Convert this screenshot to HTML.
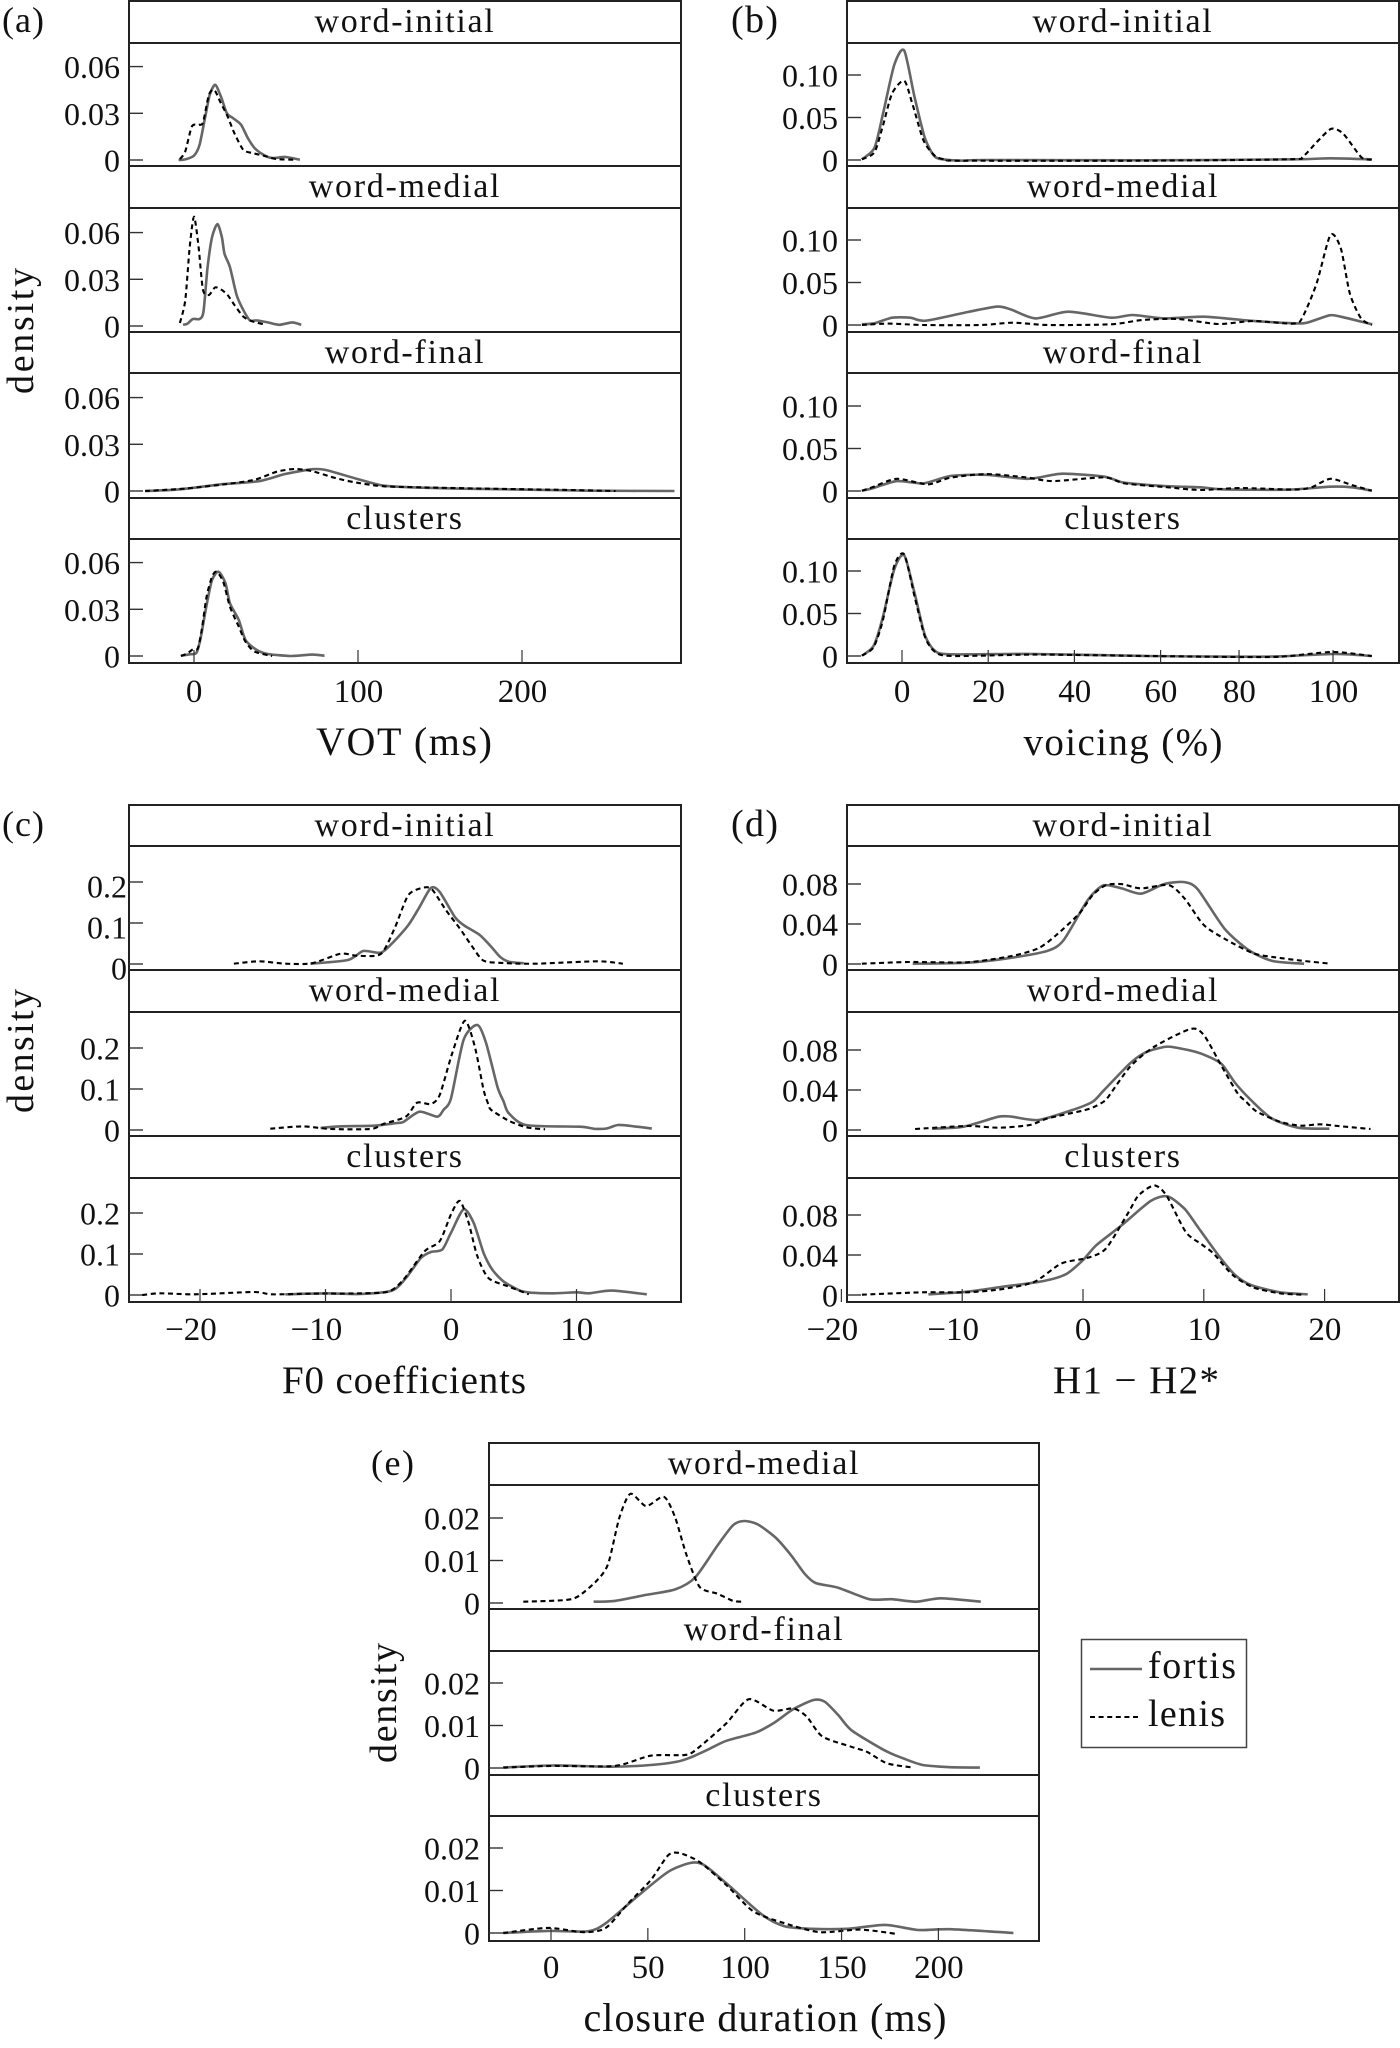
<!DOCTYPE html>
<html lang="en">
<head>
<meta charset="utf-8">
<title>Density plots by position</title>
<style>
html,body{margin:0;padding:0;background:#fff;}
svg{display:block;}
text{font-family:"Liberation Serif",serif;fill:#111;}
</style>
</head>
<body>
<svg id="chart" xmlns="http://www.w3.org/2000/svg" width="1400" height="2048" viewBox="0 0 1400 2048">
  <rect width="1400" height="2048" fill="#fff"/>
  <text x="2" y="32" font-size="36" textLength="42">(a)</text>
  <text x="731" y="32" font-size="38" textLength="47">(b)</text>
  <text x="2" y="836" font-size="36" textLength="42">(c)</text>
  <text x="731" y="836" font-size="38" textLength="47">(d)</text>
  <text x="371" y="1475" font-size="36" textLength="43">(e)</text>

  <text transform="translate(33,331) rotate(-90)" text-anchor="middle" font-size="38" textLength="126">density</text>
  <text transform="translate(33,1051) rotate(-90)" text-anchor="middle" font-size="38" textLength="124">density</text>
  <text transform="translate(396,1703) rotate(-90)" text-anchor="middle" font-size="38" textLength="120">density</text>

  <text x="404" y="755" text-anchor="middle" font-size="40" textLength="176">VOT (ms)</text>
  <text x="1123" y="755" text-anchor="middle" font-size="39" textLength="199">voicing (%)</text>
  <text x="404" y="1393" text-anchor="middle" font-size="39" textLength="244">F0 coefficients</text>
  <text x="1136" y="1393" text-anchor="middle" font-size="39" textLength="166">H1 − H2*</text>
  <text x="765" y="2031" text-anchor="middle" font-size="40" textLength="363">closure duration (ms)</text>

  <g>
    <rect x="1081.5" y="1639.5" width="165" height="108" fill="#fff" stroke="#444" stroke-width="1.5"/>
    <line x1="1090" x2="1142" y1="1669" y2="1669" stroke="#666" stroke-width="2.4"/>
    <text x="1148" y="1678" font-size="38" textLength="88">fortis</text>
    <line x1="1090" x2="1138" y1="1717" y2="1717" stroke="#000" stroke-width="2" stroke-dasharray="5 3.6"/>
    <text x="1148" y="1726" font-size="38" textLength="77">lenis</text>
  </g>
  <g id="plots"></g>
</svg>
<script>
// ---------- tick values and labels ----------
const votXTicks = [0, 100, 200];
const votXLabels = ['0', '100', '200'];
const votYTicks = [0, 0.03, 0.06];
const votYLabels = ['0', '0.03', '0.06'];
const voicingXTicks = [0, 20, 40, 60, 78.2, 100];
const voicingXLabels = ['0', '20', '40', '60', '80', '100'];
const voicingYTicks = [0, 0.05, 0.10];
const voicingYLabels = ['0', '0.05', '0.10'];
const f0XTicks = [-20, -10, 0, 10];
const f0XLabels = ['−20', '−10', '0', '10'];
const f0YTicks = [0, 0.1, 0.2];
const f0YLabels = ['0', '0.1', '0.2'];
const h1XTicks = [-20, -10, 0, 10, 20];
const h1XLabels = ['−20', '−10', '0', '10', '20'];
const h1YTicks = [0, 0.04, 0.08];
const h1YLabels = ['0', '0.04', '0.08'];
const closureXTicks = [0, 50, 100, 150, 200];
const closureXLabels = ['0', '50', '100', '150', '200'];
const closureYTicks = [0, 0.01, 0.02];
const closureYLabels = ['0', '0.01', '0.02'];

// ---------- VOT ----------
const votInitialFortisX = [-9.4,-5.3,0,3.4,6.9,9.6,12.9,16.4,20,23.8,28.7,32.8,36.9,42.3,47.7,55.9,64.6];
const votInitialFortisY = [0,.0004,.0028,.0098,.028,.0418,.0483,.0408,.0301,.0269,.0226,.0141,.0077,.0034,.0013,.0019,.0002];
const votInitialLenisX = [-8.6,-5.3,-1.3,2.8,5.5,9.1,12.4,16.4,20.5,24.6,30,35.5,42.3,50.5,61.4];
const votInitialLenisY = [.0006,.0056,.0216,.0226,.0241,.0418,.045,.0365,.028,.0173,.0066,.0045,.0028,.0006,.0002];
const votMedialFortisX = [-6.7,-4,-.7,3.4,5.8,8.3,11,14.3,17,18.6,21.9,26,30,34.1,38.2,45,51.9,60,65.4];
const votMedialFortisY = [.0008,.0015,.0045,.0045,.0093,.0379,.057,.0655,.057,.0464,.0379,.0199,.0104,.0036,.0036,.0023,.0008,.0023,.0008];
const votMedialLenisX = [-8.6,-5.3,-2.6,0,2.8,5.5,9.1,12.9,17,20.5,24.6,30,35.5,43.7];
const votMedialLenisY = [.0019,.0167,.0507,.0702,.0507,.0231,.0199,.0248,.0231,.0199,.0136,.0061,.003,.0008];
const votFinalFortisX = [-29.8,-9.4,17.8,39.6,55.9,72.2,80.4,99.4,115.8,140.3,164.8,208.4,241,293];
const votFinalFortisY = [0,.001,.0044,.0063,.011,.014,.0135,.0078,.0034,.0021,.0015,.0008,.0002,0];
const votFinalLenisX = [-29.8,-4,17.8,36.9,50.5,61.4,72.2,85.9,99.4,115.8,140.3,181,222,257];
const votFinalLenisY = [0,.0017,.0042,.0072,.0124,.0141,.0127,.0084,.0053,.003,.0023,.0015,.0008,0];
const votClusterFortisX = [-8,-2.6,1.5,4.2,7.5,11,15,19.2,21.9,27.3,31.4,38.2,45,58.9,72.2,79.6];
const votClusterFortisY = [.0002,.0011,.0021,.0124,.0317,.0488,.0541,.0467,.0339,.0231,.0103,.0039,.0013,0,.0009,.0002];
const votClusterLenisX = [-8,-4,-.7,2.3,4.7,7.7,11,13.7,17.8,21.9,27.3,31.4,36.9,47.7];
const votClusterLenisY = [0,.0017,.0043,.0049,.0167,.0381,.0509,.0541,.0477,.0317,.0188,.0092,.0028,0];

// ---------- voicing ----------
const voiceInitialFortisX = [-9.3,-6.4,-4.4,-1.8,.5,2.9,5.3,7.6,10.2,14.3,19.5,56.8,90.9,99.2,109];
const voiceInitialFortisY = [.0008,.0142,.0545,.1118,.1288,.0743,.0261,.004,.0004,-.0008,0,-.0004,.0008,.002,.0008];
const voiceInitialLenisX = [-9.3,-6.4,-4.4,-2.3,.5,2.4,5,7.6,10.2,14.3,56.8,89.9,93,96.2,99.6,102.4,106.6,109];
const voiceInitialLenisY = [.0008,.0091,.0407,.0782,.0932,.0664,.0229,.0051,.0004,-.0008,-.0008,.0008,.004,.0209,.0367,.0308,.0032,.0004];
const voiceMedialFortisX = [-9.3,-6.4,-2.3,1.9,5.5,15.3,22.1,25.2,30.9,38.6,48.5,53.5,60.9,70.2,80.6,91,94,99.2,101.8,109.1];
const voiceMedialFortisY = [.0008,.002,.0086,.0086,.0051,.0153,.0216,.0184,.0078,.0157,.0086,.0118,.0078,.0098,.0051,.002,.0027,.0114,.0098,.0008];
const voiceMedialLenisX = [-9.3,-3.3,5,18.4,25.7,34,48.5,55.7,64,73.4,81.6,91,93,96.2,99.4,101.8,103.9,106.5,109];
const voiceMedialLenisY = [0,.0016,0,0,.0027,0,.0008,.0059,.0071,.0012,.0047,.0016,.0098,.049,.1058,.0902,.0372,.0078,0];
const voiceFinalFortisX = [-9.3,-6.9,-1.2,5,11.2,19.5,29.3,37.1,46.9,51.6,60.9,69.2,74.4,90,99.2,104.4,109];
const voiceFinalFortisY = [.0004,.0031,.0117,.009,.0176,.0191,.0144,.0203,.0168,.0098,.0059,.0043,.002,.0016,.0051,.0043,.0004];
const voiceFinalLenisX = [-9.3,-6.9,-1.2,6,11.2,19.5,28.8,35,46.9,51.6,60.9,69.2,78.5,91,95,99.4,104.4,109];
const voiceFinalLenisY = [.0004,.0043,.0144,.0078,.0156,.0199,.016,.0117,.016,.009,.0047,.0012,.0035,.0016,.0043,.0144,.007,.0004];
const voiceClusterFortisX = [-9.3,-6.6,-4.4,-1.8,.5,2.9,5.3,7.6,11.2,30.9,56.8,77.5,87.9,100.3,109];
const voiceClusterFortisY = [.0004,.0119,.0466,.1019,.1185,.0743,.0249,.0063,.002,.0024,0,-.0008,-.0004,.0024,0];
const voiceClusterLenisX = [-9.3,-6.6,-4.4,-1.8,.5,2.9,5.3,7.6,11.6,30.9,56.8,77.5,87.9,99.8,109];
const voiceClusterLenisY = [.0004,.0103,.0427,.1059,.1197,.0703,.0229,.0051,0,.0016,0,-.0012,-.0008,.0047,0];

// ---------- F0 ----------
const f0InitialFortisX = [-11.2,-8.2,-7,-5.6,-4.7,-3.4,-2.5,-1.6,-.9,.3,1,2.3,3.2,3.9,4.6,5.8];
const f0InitialFortisY = [.0008,.0097,.0316,.0275,.0502,.0948,.1393,.1855,.1758,.115,.0948,.0705,.0421,.0178,.0057,.0016];
const f0InitialLenisX = [-17.3,-15.3,-13.2,-11.1,-8.8,-7.5,-5.6,-4.5,-3.4,-2.2,-1.5,-.4,.7,1.7,2.6,4.2,6.7,11.7,13.7];
const f0InitialLenisY = [.0008,.0065,.0008,.0016,.0251,.0203,.0243,.0867,.1677,.1863,.1814,.1312,.0867,.0421,.0081,.0024,.0008,.0065,.0008];
const f0MedialFortisX = [-10.4,-8.9,-6.1,-4.3,-3.8,-2.5,-1.1,-.6,0,1,2.1,2.8,3.7,4.2,4.6,6,10.3,11.4,12.4,13.3,14.6,16];
const f0MedialFortisY = [.0049,.0089,.0106,.0171,.0195,.0447,.0325,.049,.0772,.22,.256,.212,.1057,.069,.041,.012,.008,.003,.0036,.0122,.0089,.0035];
const f0MedialLenisX = [-14.4,-11.8,-9.6,-6.4,-5.4,-3.6,-2.7,-1.6,-.9,.1,1.1,1.9,2.6,3,3.2,4.6,6,7.5];
const f0MedialLenisY = [.0032,.0089,.0024,.0024,.0146,.0325,.0667,.0634,.0854,.1878,.2666,.2033,.0976,.061,.0488,.0228,.0065,.0016];
const f0ClusterFortisX = [-13.2,-10,-7.2,-4.7,-3.6,-2.4,-1.6,-.7,0,1,1.8,2.6,3.3,4.2,5.5,6.4,8.2,10,11,12.8,15.6];
const f0ClusterFortisY = [.0016,.0041,.0025,.0107,.041,.0902,.105,.1107,.1517,.2091,.1763,.1025,.0615,.0328,.0107,.0057,.0041,.0066,.0041,.0107,.0016];
const f0ClusterLenisX = [-24.6,-23.2,-20.4,-15.7,-14.3,-11.1,-7.2,-5,-3.8,-2.1,-.9,0,.7,1.4,2.1,3,4.6,6.2];
const f0ClusterLenisY = [0,.0041,.0016,.0074,.0016,.0033,.0041,.0082,.0369,.1066,.1312,.1968,.2296,.1763,.0943,.041,.0205,.0016];

// ---------- H1-H2* ----------
const h1InitialFortisX = [-14.1,-9.6,-5.9,-2.9,-1.6,.4,1.7,3.2,4.8,6.7,8.4,9.5,11.7,13.7,15.7,18.3];
const h1InitialFortisY = [.0003,.0013,.0063,.0133,.024,.064,.0786,.0756,.0703,.0799,.0819,.0746,.0356,.014,.003,.0003];
const h1InitialLenisX = [-18.3,-14.4,-9.6,-5.9,-3.7,-2.2,-.3,.8,1.9,3.2,4.8,7.1,8.4,10,11.9,14.1,15.9,18.1,20.5];
const h1InitialLenisY = [.0003,.002,.0017,.008,.0157,.029,.0506,.0689,.0789,.0799,.0756,.0789,.0656,.039,.024,.0107,.0067,.0033,.0003];
const h1MedialFortisX = [-12.5,-9.9,-7,-5.9,-3.7,-.7,.8,1.7,3.9,5.2,6.7,7.4,9.3,10.4,11.5,12.6,13.9,15.6,17.8,20.4];
const h1MedialFortisY = [.0013,.0033,.0133,.0133,.01,.0207,.0283,.0393,.0667,.0777,.083,.083,.0783,.0733,.0657,.047,.03,.0117,.0023,.0013];
const h1MedialLenisX = [-13.9,-9.6,-7,-4.4,-2.9,.4,1.7,2.1,3.9,5.9,8.9,10,11.5,12.8,13.5,14.4,16.3,18,19.6,21.1,23.8];
const h1MedialLenisY = [.001,.004,.0023,.005,.0117,.0207,.0283,.0333,.0633,.0833,.101,.095,.0633,.0367,.0283,.0183,.0083,.0043,.0057,.004,.001];
const h1ClusterFortisX = [-12.8,-9.6,-6.6,-3.3,-1.4,0,1.1,3.2,5.6,7,8.4,9.6,11.3,12.6,13.9,16.3,18.6];
const h1ClusterFortisY = [.0007,.0033,.0083,.0139,.0209,.0349,.0498,.0697,.094,.0986,.0863,.0664,.0382,.0199,.01,.0027,.0007];
const h1ClusterLenisX = [-18.3,-13.3,-9.6,-6.6,-4,-1.8,.4,1.9,3.7,4.6,5.9,6.9,8.5,9.8,10.8,12.4,14.1,16.3,18.1];
const h1ClusterLenisY = [.0003,.0027,.0027,.006,.0133,.0315,.0372,.0465,.0813,.0996,.1096,.0996,.0631,.0508,.0415,.0199,.0076,.0017,.0003];

// ---------- closure duration ----------
const closureMedialFortisX = [22,33,49.1,64.1,74.4,85.9,94,99.8,106.7,115.9,124,130.9,136.6,148.2,164.3,175.8,188.5,201.2,221.9];
const closureMedialFortisY = [.0003,.0005,.0019,.0032,.006,.0135,.0183,.0193,.0185,.0154,.0112,.0069,.0047,.0036,.0009,.0009,.0003,.0011,.0003];
const closureMedialLenisX = [-14.3,7.6,14.5,23.7,29.5,35.3,41,49.1,58.3,64.1,69.8,76.7,85.9,94,99.1];
const closureMedialLenisY = [.0003,.0007,.0017,.0053,.0092,.0201,.0257,.0228,.025,.0201,.0115,.0038,.0022,.0005,.0003];
const closureFinalFortisX = [-24.7,.7,30.6,51.4,65.2,72.1,81.3,90.5,105.5,114.7,125,135.5,141.3,148.2,155.1,171.2,181.6,191.9,205.8,221.4];
const closureFinalFortisY = [.0001,.0006,.0003,.0007,.0015,.0025,.0044,.0064,.0083,.0105,.0138,.016,.0156,.0125,.0089,.0044,.0023,.0007,.0002,.0001];
const closureFinalLenisX = [-24.7,.7,33,51.4,69.8,76.7,90.5,102.1,114.7,125.1,132,140.1,155.1,163.1,173.5,186.9];
const closureFinalLenisY = [.0001,.0005,.0005,.0029,.0031,.005,.0105,.0162,.0135,.014,.0121,.0074,.005,.0038,.0011,.0001];
const closureClusterFortisX = [-24.7,-1.6,19.1,28.3,44.5,60.5,72.1,79,90.5,109,120.5,134.4,152.8,172.4,189.7,205.8,238.7];
const closureClusterFortisY = [0,.0005,.0004,.0023,.0086,.0144,.0165,.016,.0117,.0043,.0016,.001,.001,.0019,.0007,.0009,0];
const closureClusterLenisX = [-24.7,-1.6,16.8,28.3,39.9,51.4,60.5,66.4,76.7,90.5,104.4,120.5,138.9,159.7,178.1];
const closureClusterLenisY = [0,.0012,.0002,.0012,.007,.0124,.0183,.0188,.0167,.0113,.0051,.0023,.0002,.0008,-.0002];

// ---------- drawing ----------
const SVG_NS = 'http://www.w3.org/2000/svg';
const root = document.getElementById('plots');

function mk(tag, attrs, parent) {
  const el = document.createElementNS(SVG_NS, tag);
  for (const k in attrs) el.setAttribute(k, attrs[k]);
  parent.appendChild(el);
  return el;
}

function linearX(panel) {
  return v => panel.x0 + v * panel.xPerUnit;
}

// Lightly smoothed curve through the data points (the source curves are density estimates).
function smoothPath(pts) {
  const k = 1 / 8;
  let d = 'M' + pts[0][0].toFixed(1) + ' ' + pts[0][1].toFixed(1);
  for (let i = 0; i < pts.length - 1; i++) {
    const p0 = pts[Math.max(0, i - 1)];
    const p1 = pts[i];
    const p2 = pts[i + 1];
    const p3 = pts[Math.min(pts.length - 1, i + 2)];
    const c1x = p1[0] + (p2[0] - p0[0]) * k;
    const c1y = p1[1] + (p2[1] - p0[1]) * k;
    const c2x = p2[0] - (p3[0] - p1[0]) * k;
    const c2y = p2[1] - (p3[1] - p1[1]) * k;
    d += 'C' + c1x.toFixed(1) + ' ' + c1y.toFixed(1) + ' ' + c2x.toFixed(1) + ' ' + c2y.toFixed(1) + ' ' + p2[0].toFixed(1) + ' ' + p2[1].toFixed(1);
  }
  return d;
}

function drawSeries(g, xs, ys, sx, sy, kind, name) {
  const pts = xs.map((x, i) => [sx(x), sy(ys[i])]);
  const style = kind === 'fortis'
    ? {stroke: '#666', 'stroke-width': 2.6}
    : {stroke: '#000', 'stroke-width': 2.1, 'stroke-dasharray': '5 3.6'};
  const line = mk('path', Object.assign({d: smoothPath(pts), fill: 'none', 'stroke-linejoin': 'round'}, style), g);
  
  
}

function drawFacet(panel, facet, isLast, group) {
  const name = panel.name + '-' + facet.label;
  const g = mk('g', {}, group);
  
  

  const strip = mk('rect', {x: panel.left, y: facet.top, width: panel.right - panel.left, height: facet.stripBottom - facet.top, fill: '#fff', stroke: '#222', 'stroke-width': 2}, g);
  
  

  const stripText = mk('text', {x: (panel.left + panel.right) / 2, y: facet.top + 31, 'text-anchor': 'middle', 'font-size': 34, 'letter-spacing': 1.7}, g);
  stripText.textContent = facet.label;
  
  

  const frame = mk('rect', {x: panel.left, y: facet.stripBottom, width: panel.right - panel.left, height: facet.bottom - facet.stripBottom, fill: '#fff', stroke: '#222', 'stroke-width': 2}, g);
  
  

  const sx = linearX(panel);
  const sy = v => facet.zero - v * panel.yPerUnit;

  panel.yTicks.forEach((t, i) => {
    const tick = mk('line', {x1: panel.left, x2: panel.left + 14, y1: sy(t), y2: sy(t), stroke: '#333', 'stroke-width': 1.4}, g);
    
    
    const lab = mk('text', {x: panel.left - 9 + (facet.labelDx || 0), y: sy(t) + 11.5 + (facet.labelDy || 0), 'text-anchor': 'end', 'font-size': 32}, g);
    lab.textContent = panel.yLabels[i];
    
    
  });

  drawSeries(g, facet.fortisX, facet.fortisY, sx, sy, 'fortis', name);
  drawSeries(g, facet.lenisX, facet.lenisY, sx, sy, 'lenis', name);

  if (isLast) {
    panel.xTicks.forEach((t, i) => {
      const tick = mk('line', {x1: sx(t), x2: sx(t), y1: facet.bottom, y2: facet.bottom - 13, stroke: '#333', 'stroke-width': 1.2}, g);
      
      
      const txt = panel.xLabels[i];
      const digits = txt.replace('−', '').length;
      const lab = mk('text', {x: sx(t) + digits * 8.4, y: facet.bottom + panel.xLabelGap, 'text-anchor': 'end', 'font-size': 33}, g);
      lab.textContent = txt;
      
      
    });
  }
}

function drawPanel(panel) {
  const group = mk('g', {}, root);
  
  
  panel.facets.forEach((f, i) => drawFacet(panel, f, i === panel.facets.length - 1, group));
}

drawPanel({
  name: 'vot', left: 129, right: 681, x0: 194, xPerUnit: 1.64, yPerUnit: 1557, xLabelGap: 39,
  xTicks: votXTicks, xLabels: votXLabels, yTicks: votYTicks, yLabels: votYLabels,
  facets: [
    {label: 'word-initial', top: 1, stripBottom: 43, bottom: 166, zero: 160, fortisX: votInitialFortisX, fortisY: votInitialFortisY, lenisX: votInitialLenisX, lenisY: votInitialLenisY},
    {label: 'word-medial', top: 166, stripBottom: 208, bottom: 332, zero: 326, fortisX: votMedialFortisX, fortisY: votMedialFortisY, lenisX: votMedialLenisX, lenisY: votMedialLenisY},
    {label: 'word-final', top: 332, stripBottom: 373, bottom: 498, zero: 491, fortisX: votFinalFortisX, fortisY: votFinalFortisY, lenisX: votFinalLenisX, lenisY: votFinalLenisY},
    {label: 'clusters', top: 498, stripBottom: 539, bottom: 663, zero: 656, fortisX: votClusterFortisX, fortisY: votClusterFortisY, lenisX: votClusterLenisX, lenisY: votClusterLenisY}
  ]
});

drawPanel({
  name: 'voicing', left: 847, right: 1399, x0: 902, xPerUnit: 4.31, yPerUnit: 850, xLabelGap: 39,
  xTicks: voicingXTicks, xLabels: voicingXLabels, yTicks: voicingYTicks, yLabels: voicingYLabels,
  facets: [
    {label: 'word-initial', top: 1, stripBottom: 43, bottom: 166, zero: 160, fortisX: voiceInitialFortisX, fortisY: voiceInitialFortisY, lenisX: voiceInitialLenisX, lenisY: voiceInitialLenisY},
    {label: 'word-medial', top: 166, stripBottom: 208, bottom: 332, zero: 325, fortisX: voiceMedialFortisX, fortisY: voiceMedialFortisY, lenisX: voiceMedialLenisX, lenisY: voiceMedialLenisY},
    {label: 'word-final', top: 332, stripBottom: 373, bottom: 498, zero: 491, fortisX: voiceFinalFortisX, fortisY: voiceFinalFortisY, lenisX: voiceFinalLenisX, lenisY: voiceFinalLenisY},
    {label: 'clusters', top: 498, stripBottom: 539, bottom: 663, zero: 656, fortisX: voiceClusterFortisX, fortisY: voiceClusterFortisY, lenisX: voiceClusterLenisX, lenisY: voiceClusterLenisY}
  ]
});

drawPanel({
  name: 'f0', left: 129, right: 681, x0: 451, xPerUnit: 12.55, yPerUnit: 410, xLabelGap: 38,
  xTicks: f0XTicks, xLabels: f0XLabels, yTicks: f0YTicks, yLabels: f0YLabels,
  facets: [
    {label: 'word-initial', top: 805, stripBottom: 846, bottom: 970, zero: 964, labelDx: 7, labelDy: 4, fortisX: f0InitialFortisX, fortisY: f0InitialFortisY, lenisX: f0InitialLenisX, lenisY: f0InitialLenisY},
    {label: 'word-medial', top: 970, stripBottom: 1012, bottom: 1136, zero: 1130, fortisX: f0MedialFortisX, fortisY: f0MedialFortisY, lenisX: f0MedialLenisX, lenisY: f0MedialLenisY},
    {label: 'clusters', top: 1136, stripBottom: 1178, bottom: 1302, zero: 1295, fortisX: f0ClusterFortisX, fortisY: f0ClusterFortisY, lenisX: f0ClusterLenisX, lenisY: f0ClusterLenisY}
  ]
});

drawPanel({
  name: 'h1h2', left: 847, right: 1399, x0: 1083, xPerUnit: 12.08, yPerUnit: 1000, xLabelGap: 38,
  xTicks: h1XTicks, xLabels: h1XLabels, yTicks: h1YTicks, yLabels: h1YLabels,
  facets: [
    {label: 'word-initial', top: 805, stripBottom: 846, bottom: 970, zero: 964, fortisX: h1InitialFortisX, fortisY: h1InitialFortisY, lenisX: h1InitialLenisX, lenisY: h1InitialLenisY},
    {label: 'word-medial', top: 970, stripBottom: 1012, bottom: 1136, zero: 1130, fortisX: h1MedialFortisX, fortisY: h1MedialFortisY, lenisX: h1MedialLenisX, lenisY: h1MedialLenisY},
    {label: 'clusters', top: 1136, stripBottom: 1178, bottom: 1302, zero: 1295, fortisX: h1ClusterFortisX, fortisY: h1ClusterFortisY, lenisX: h1ClusterLenisX, lenisY: h1ClusterLenisY}
  ]
});

drawPanel({
  name: 'closure', left: 489, right: 1039, x0: 551, xPerUnit: 1.937, yPerUnit: 4250, xLabelGap: 37,
  xTicks: closureXTicks, xLabels: closureXLabels, yTicks: closureYTicks, yLabels: closureYLabels,
  facets: [
    {label: 'word-medial', top: 1443, stripBottom: 1485, bottom: 1609, zero: 1603, fortisX: closureMedialFortisX, fortisY: closureMedialFortisY, lenisX: closureMedialLenisX, lenisY: closureMedialLenisY},
    {label: 'word-final', top: 1609, stripBottom: 1651, bottom: 1775, zero: 1768, fortisX: closureFinalFortisX, fortisY: closureFinalFortisY, lenisX: closureFinalLenisX, lenisY: closureFinalLenisY},
    {label: 'clusters', top: 1775, stripBottom: 1816, bottom: 1941, zero: 1933, fortisX: closureClusterFortisX, fortisY: closureClusterFortisY, lenisX: closureClusterLenisX, lenisY: closureClusterLenisY}
  ]
});
</script>
</body>
</html>
